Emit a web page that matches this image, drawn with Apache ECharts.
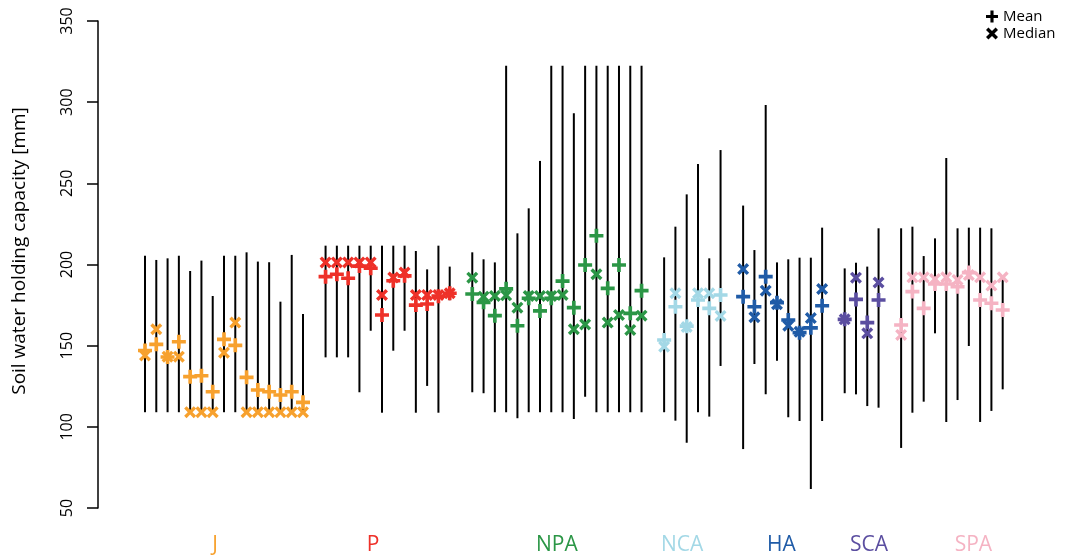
<!DOCTYPE html>
<html>
<head>
<meta charset="utf-8">
<script src="https://cdn.jsdelivr.net/npm/echarts@6/dist/echarts.min.js"></script>
<style>
  html, body { margin: 0; padding: 0; background: #fff; }
  #chart { width: 1069px; height: 557px; }
</style>
</head>
<body>
<div id="chart"></div>
<script>
// Region groups, their colours and number of sites per group
const groups = ['J', 'P', 'NPA', 'NCA', 'HA', 'SCA', 'SPA'];
const groupColors = ['#F7A12E', '#EE3129', '#2B9646', '#A3D8E6', '#1F5BA7', '#5B4EA0', '#F5B3C3'];
const groupSizes = [15, 12, 16, 6, 8, 4, 10];
// Where each group name sits along the site axis
const groupLabelPos = [7.2, 21.2, 37.5, 48.6, 57.4, 65.15, 74.4];

// Per-site statistics of soil water holding capacity [mm], listed group by group
const siteMax = [
  // J
  205.4, 202.8, 203.8, 205.4, 196, 202.4, 180.6, 205.4, 205.4, 207.5, 201.8, 201.4, 177.1, 205.9, 169.5,
  // P
  211.6, 211.6, 211.6, 211.6, 211.6, 211.6, 211.6, 211.6, 208.3, 197, 211.6, 198.7,
  // NPA
  207.5, 203.2, 201.3, 322.5, 219.2, 234.6, 263.8, 322.5, 322.5, 293.1, 322.5, 322.5, 322.5, 322.5, 322.5, 322.5,
  // NCA
  204.4, 223.3, 243.2, 261.9, 203.8, 270.5,
  // HA
  236.3, 208.9, 298.3, 201.3, 203.2, 204.2, 204.2, 222.7,
  // SCA
  197.6, 201.1, 198.7, 222.3,
  // SPA
  222.3, 223.3, 205.2, 216.1, 265.6, 222.3, 222.7, 222.7, 222.3, 192
];
const siteMin = [
  109, 109, 109, 109, 109, 109, 109, 109, 109, 109, 109, 109, 109, 109, 109,
  142.8, 142.8, 142.8, 121.3, 159.2, 108.7, 146.9, 159.2, 108.7, 125.2, 108.7, 178,
  121.3, 120.7, 109, 109, 105.3, 109, 109, 109, 109, 104.8, 118.6, 109, 109, 109, 109, 109,
  109, 103.8, 90.2, 109, 106.3, 137.5,
  86.3, 138.7, 120, 140.7, 105.9, 103.6, 61.7, 103.6,
  120.7, 120, 112.8, 111.8,
  87, 108.7, 115.5, 157.6, 103, 116.5, 149.8, 103, 109.8, 123.1
];
const siteMean = [
  147, 150.8, 143, 152.4, 130.9, 131.5, 121.6, 153.9, 150.2, 130.5, 122.7, 121.6, 119.6, 121.6, 115.1,
  192.5, 194, 191.5, 199, 197.7, 168.9, 190, 193, 175, 175.7, 180.5, 182.3,
  181.8, 176.7, 168.5, 185, 162.3, 179.2, 171.4, 179.2, 189.8, 173.4, 199.7, 217.7, 185.3, 199.7, 169.9, 183.9,
  153.5, 174, 162, 178.1, 173, 181.2,
  180.2, 174, 192.5, 176.5, 165.8, 158, 161, 174.6,
  166.2, 178.5, 164.2, 178.1,
  162.7, 183.3, 173, 188, 188, 186.3, 195, 178.1, 176.1, 172
];
const siteMedian = [
  144, 160.1, 143.2, 143.2, 109, 109, 109, 145.7, 164.2, 109, 109, 109, 109, 109, 109,
  201.3, 201.3, 201.3, 201.3, 201.3, 181.2, 192, 195, 181.2, 181.2, 181.2, 182.3,
  191.9, 180.2, 180.6, 181, 173.4, 180.6, 180.6, 180.6, 181.2, 160.1, 163.1, 194, 164.2, 168.9, 159.7, 168.5,
  149.4, 182.3, 161.5, 182.3, 182.3, 168.3,
  197.2, 167.5, 183.9, 175.5, 162.3, 158.5, 167, 184.9,
  166.2, 191.9, 157.6, 188.9,
  156.6, 192.1, 192.1, 191, 192.1, 190.5, 193.5, 192.1, 187, 192.1
];

// Marker shapes
const PLUS = 'path://M3.7,0H6.3V3.7H10V6.3H6.3V10H3.7V6.3H0V3.7H3.7Z';
const CROSS = 'path://M2,0L5,3L8,0L10,2L7,5L10,8L8,10L5,7L2,10L0,8L3,5L0,2Z';

// Sites sit on consecutive slots, with one empty slot between groups
const siteX = [];
const siteGroup = [];
let slot = 1;
groupSizes.forEach((n, g) => {
  for (let i = 0; i < n; i++) { siteX.push(slot++); siteGroup.push(g); }
  slot++;
});

const rangeData = siteX.map((x, i) => [x, siteMin[i], siteMax[i]]);
const meanData = siteX.map((x, i) => ({ value: [x, siteMean[i]], itemStyle: { color: groupColors[siteGroup[i]] } }));
const medianData = siteX.map((x, i) => ({ value: [x, siteMedian[i]], itemStyle: { color: groupColors[siteGroup[i]] } }));

const rich = {};
groups.forEach((g, i) => { rich['g' + i] = { color: groupColors[i], fontSize: 21, fontFamily: 'Open Sans' }; });

const chart = echarts.init(document.getElementById('chart'));
chart.setOption({
  animation: false,
  backgroundColor: '#fff',
  grid: { left: 98, right: 3, top: 21, bottom: 49 },
  legend: {
    orient: 'vertical',
    left: 981,
    top: 4,
    itemWidth: 12,
    itemHeight: 12,
    itemGap: 2,
    textStyle: { fontSize: 15, color: '#000', fontFamily: 'Open Sans' },
    data: [
      { name: 'Mean', icon: PLUS },
      { name: 'Median', icon: CROSS }
    ]
  },
  xAxis: {
    type: 'value',
    min: -3.165,
    max: 82.61,
    axisLine: { show: false },
    axisTick: { show: false },
    splitLine: { show: false },
    axisLabel: {
      customValues: groupLabelPos,
      margin: 27,
      formatter: (v) => {
        const i = groupLabelPos.indexOf(v);
        return i >= 0 ? '{g' + i + '|' + groups[i] + '}' : '';
      },
      rich: rich
    }
  },
  yAxis: {
    type: 'value',
    min: 50,
    max: 350,
    interval: 50,
    axisLine: { show: true, onZero: false, lineStyle: { color: '#000', width: 1.5 } },
    axisTick: { show: true, length: 11, lineStyle: { color: '#000', width: 1.5 } },
    splitLine: { show: false },
    axisLabel: { rotate: 90, margin: 23, fontSize: 16, color: '#000', fontFamily: 'Open Sans' }
  },
  graphic: [{
    type: 'text',
    x: 20,
    y: 251,
    rotation: Math.PI / 2,
    style: {
      text: 'Soil water holding capacity [mm]',
      fontSize: 19,
      fontFamily: 'Open Sans',
      fill: '#000',
      align: 'center',
      verticalAlign: 'middle'
    }
  }],
  series: [
    {
      name: 'Range',
      type: 'custom',
      encode: { x: 0, y: [1, 2] },
      data: rangeData,
      renderItem: (params, api) => {
        const x = api.value(0);
        const p1 = api.coord([x, api.value(1)]);
        const p2 = api.coord([x, api.value(2)]);
        return {
          type: 'line',
          shape: { x1: p1[0], y1: p1[1], x2: p2[0], y2: p2[1] },
          style: { stroke: '#000', lineWidth: 2 }
        };
      },
      z: 1
    },
    {
      name: 'Mean',
      type: 'scatter',
      symbol: PLUS,
      symbolSize: 14,
      itemStyle: { color: '#000', opacity: 1 },
      data: meanData,
      z: 2
    },
    {
      name: 'Median',
      type: 'scatter',
      symbol: CROSS,
      symbolSize: 12,
      itemStyle: { color: '#000', opacity: 1 },
      data: medianData,
      z: 3
    }
  ]
});
</script>
</body>
</html>
